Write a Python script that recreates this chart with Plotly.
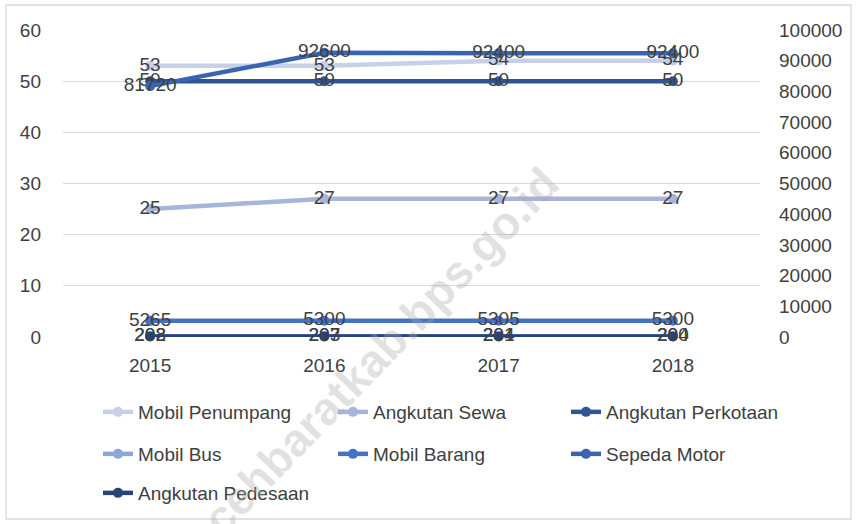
import plotly.graph_objects as go

years = ["2015", "2016", "2017", "2018"]
mobil_penumpang = [53, 53, 54, 54]
angkutan_sewa = [25, 27, 27, 27]
angkutan_perkotaan = [50, 50, 50, 50]
mobil_bus = [208, 207, 204, 204]
mobil_barang = [5265, 5300, 5305, 5300]
sepeda_motor = [81720, 92600, 92400, 92400]
angkutan_pedesaan = [202, 203, 201, 200]

left_ticks = [0, 10, 20, 30, 40, 50, 60]
right_ticks = [0, 10000, 20000, 30000, 40000, 50000, 60000, 70000, 80000, 90000, 100000]

series = [
    ("Mobil Penumpang", mobil_penumpang, "y", "#c7d0e9"),
    ("Angkutan Sewa", angkutan_sewa, "y", "#a7b5da"),
    ("Angkutan Perkotaan", angkutan_perkotaan, "y", "#2f5597"),
    ("Mobil Bus", mobil_bus, "y2", "#8fa7d8"),
    ("Mobil Barang", mobil_barang, "y2", "#4472c4"),
    ("Sepeda Motor", sepeda_motor, "y2", "#3964b0"),
    ("Angkutan Pedesaan", angkutan_pedesaan, "y2", "#264478"),
]

FONT = "Liberation Sans"
TXT = "#404040"
L, R, T, B = 63, 97, 30, 187
W, H = 857, 524
PW, PH = W - L - R, H - T - B

# legend grid (text start x, row center y) in pixels
col_text_x = [140, 375, 608]
row_center_y = [413, 455, 494]

fig = go.Figure()
legends = {}
for i, (name, vals, ax, col) in enumerate(series):
    lg = "legend" if i == 0 else f"legend{i + 1}"
    fig.add_trace(go.Scatter(
        x=years, y=vals, name=name, yaxis=ax, legend=lg,
        mode="lines+markers+text",
        line=dict(color=col, width=4.5),
        marker=dict(color=col, size=10),
        text=[str(v) for v in vals], textposition="middle center",
        textfont=dict(family=FONT, size=19, color=TXT),
        cliponaxis=False,
    ))
    r, c = divmod(i, 3)
    lx = col_text_x[c] - 42
    ly = row_center_y[r] - 20
    legends[lg] = dict(orientation="h", xanchor="left", yanchor="top",
                       x=(lx - L) / PW, y=(H - B - ly) / PH,
                       font=dict(family=FONT, size=19, color=TXT),
                       bgcolor="rgba(0,0,0,0)")

fig.update_layout(
    width=W, height=H,
    margin=dict(l=L, r=R, t=T, b=B, autoexpand=False),
    paper_bgcolor="white", plot_bgcolor="white",
    font=dict(family=FONT, size=18, color=TXT),
    showlegend=True,
    xaxis=dict(type="category", range=[-0.5, 3.5], showgrid=False, showline=False,
               ticks="", tickfont=dict(family=FONT, size=19, color=TXT),
               ticklabelstandoff=15, automargin=False),
    yaxis=dict(range=[0, 60], tickvals=left_ticks, showgrid=True, gridcolor="#d9d9d9",
               gridwidth=1.3, zeroline=False, showline=False, ticks="",
               tickfont=dict(family=FONT, size=19, color=TXT), ticklabelstandoff=21,
               automargin=False),
    yaxis2=dict(range=[0, 100000], tickvals=right_ticks, tickformat="d",
                overlaying="y", side="right",
                showgrid=False, zeroline=False, showline=False, ticks="",
                tickfont=dict(family=FONT, size=19, color=TXT), ticklabelstandoff=18,
                automargin=False),
    shapes=[dict(type="rect", xref="paper", yref="paper",
                 x0=(6 - L) / PW, x1=(851 - L) / PW,
                 y0=(H - B - 519) / PH, y1=(H - B - 5) / PH,
                 line=dict(color="#d9d9d9", width=1.3), fillcolor="rgba(0,0,0,0)",
                 layer="below")],
    annotations=[dict(text="<b>acehbaratkab.bps.go.id</b>", xref="paper", yref="paper",
                      x=(372 - L) / PW, y=(H - B - 360) / PH, showarrow=False,
                      xanchor="center", yanchor="middle",
                      textangle=-46,
                      font=dict(family=FONT, size=46, color="rgba(170,170,170,0.35)"))],
    **legends,
)

fig.write_html("out.html",
               config={"displayModeBar": False},
               post_script="document.body.style.margin='0';document.body.style.overflow='hidden';")
